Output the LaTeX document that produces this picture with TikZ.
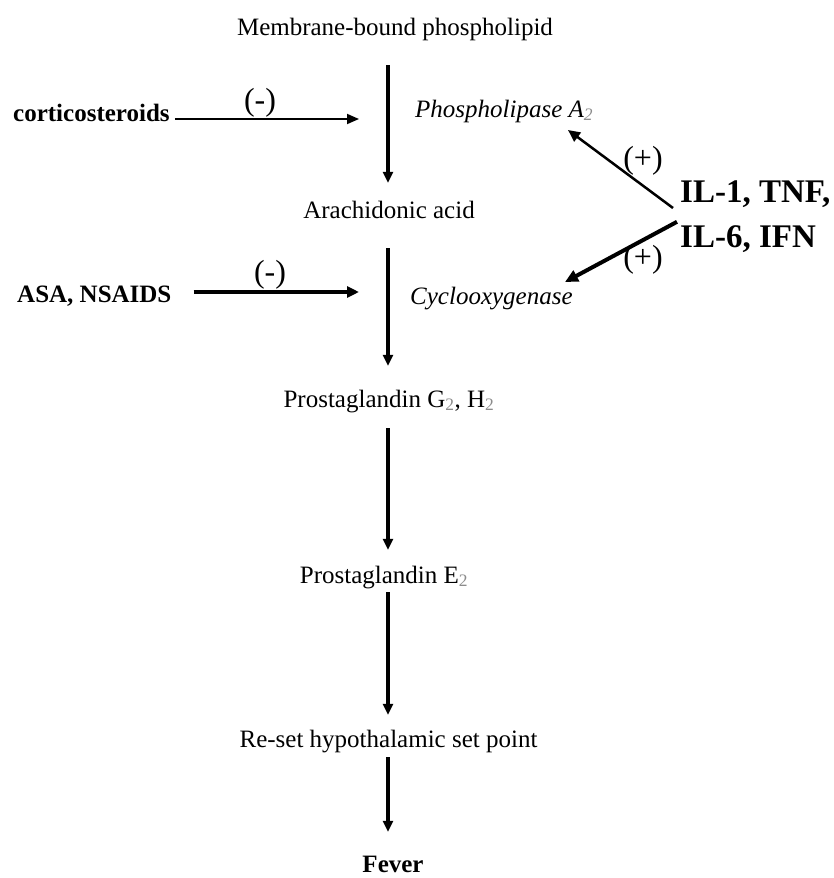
\documentclass[tikz,border=0pt]{standalone}
\usepackage{fontspec}
\setmainfont{Liberation Serif}
\usetikzlibrary{arrows.meta,calc}
\newcommand{\subtwo}{\textsubscript{\textcolor{black!45}{2}}}
\begin{document}
\begin{tikzpicture}[x=1pt,y=-1pt,
  lbl/.style={inner sep=0pt, font=\fontsize{25}{30}\selectfont, text height=17pt, text depth=5.5pt, anchor=base},
  lblb/.style={lbl, font=\bfseries\fontsize{25}{30}\selectfont},
  lbli/.style={lbl, font=\itshape\fontsize{25}{30}\selectfont},
  ilbl/.style={inner sep=0pt, font=\bfseries\fontsize{33}{40}\selectfont, text height=24pt, text depth=6pt, anchor=base west},
  sign/.style={inner sep=0pt, font=\fontsize{32}{38}\selectfont},
  flow/.style={line width=3.1pt, -{Triangle[length=11pt,width=10pt]}},
  thinarrow/.style={line width=1.8pt, -{Triangle[length=12pt,width=10pt]}},
  thickarrow/.style={line width=4pt, -{Triangle[length=12pt,width=11pt]}},
  diagthin/.style={line width=2.5pt, -{Triangle[length=12pt,width=11pt]}},
  diagthick/.style={line width=4pt, -{Triangle[length=13pt,width=12pt]}}]
\fill[white] (0,0) rectangle (834,878);
\useasboundingbox (0,0) rectangle (834,878);

\coordinate (spine) at (388,0);

% main chain
\node[lbl] (mem) at (395,35) {Membrane-bound phospholipid};
\node[lbl] (ara) at (389,218) {Arachidonic acid};
\node[lbl] (pg) at (389,407) {Prostaglandin G\subtwo, H\subtwo};
\node[lbl] (pe) at (384,583) {Prostaglandin E\subtwo};
\node[lbl] (rs) at (388.5,747) {Re-set hypothalamic set point};
\node[lblb] (fev) at (393,872) {Fever};

% enzymes
\node[lbli, anchor=base west] (pla) at (415,117) {Phospholipase A\subtwo};
\node[lbli, anchor=base west] (cox) at (410,304) {Cyclooxygenase};

% inhibitors
\node[lblb, anchor=base west] (cort) at (13,121) {corticosteroids};
\node[lblb, anchor=base west] (asa) at (17,302) {ASA, NSAIDS};

% cytokines
\node[ilbl] (il1) at (680,202) {IL-1, TNF,};
\node[ilbl] (il2) at (680,247) {IL-6, IFN};

% vertical flow
\draw[flow, shorten <=24.5pt, shorten >=18pt] (mem.south -| spine) -- (ara.north -| spine);
\draw[flow, shorten <=24.5pt, shorten >=24pt] (ara.south -| spine) -- (pg.north -| spine);
\draw[flow, shorten <=15.5pt, shorten >=16pt] (pg.south -| spine) -- (pe.north -| spine);
\draw[flow, shorten <=3.5pt, shorten >=15pt] (pe.south -| spine) -- (rs.north -| spine);
\draw[flow, shorten <=4.5pt, shorten >=23pt] (rs.south -| spine) -- (fev.north -| spine);

% inhibition arrows
\coordinate (inh1) at (359,119);
\coordinate (inh2) at (359,292);
\draw[thinarrow, shorten <=5pt] (cort.east |- inh1) -- (inh1);
\draw[thickarrow, shorten <=22pt] (asa.east |- inh2) -- (inh2);
\node[sign] (m1) at (260,103) {(-)};
\node[sign] (m2) at (270,275) {(-)};

% stimulation arrows
\coordinate (plat) at (568,130);
\coordinate (coxt) at (565,282);
\draw[diagthin] ([shift={(-7pt,-6pt)}]il1.base west) -- (plat);
\draw[diagthick] ([shift={(-3pt,1pt)}]il2.north west) -- (coxt);
\node[sign] (p1) at (643,161) {(+)};
\node[sign] (p2) at (643,260) {(+)};
\end{tikzpicture}
\end{document}
